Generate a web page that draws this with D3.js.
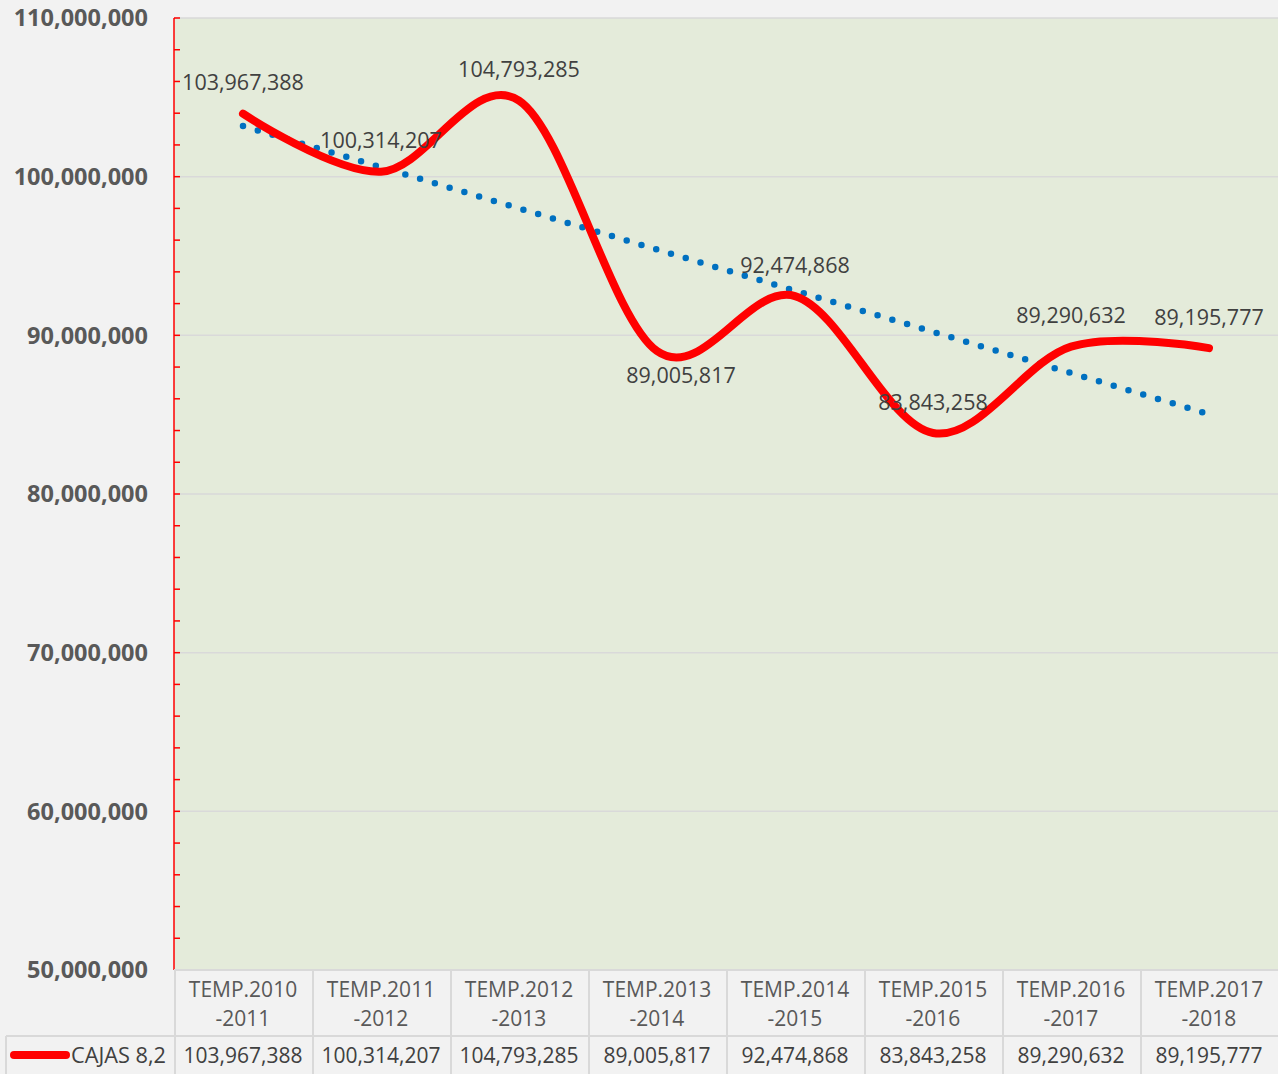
<!DOCTYPE html>
<html>
<head>
<meta charset="utf-8">
<script src="https://cdn.jsdelivr.net/npm/d3@7"></script>
<style>
  html, body { margin: 0; padding: 0; background: #f2f2f2; }
  svg { display: block; }
</style>
</head>
<body>
<svg id="chart" width="1278" height="1074"></svg>
<script>
// chart data
var seasons = ["TEMP.2010-2011", "TEMP.2011-2012", "TEMP.2012-2013", "TEMP.2013-2014",
               "TEMP.2014-2015", "TEMP.2015-2016", "TEMP.2016-2017", "TEMP.2017-2018"];
var cajas = [103967388, 100314207, 104793285, 89005817, 92474868, 83843258, 89290632, 89195777];
var seriesName = "CAJAS 8,2";
var yTicks = [50000000, 60000000, 70000000, 80000000, 90000000, 100000000, 110000000];

// label placement relative to each point (dx, dy)
var labelOffset = [[0, -31], [0, -31], [0, -31], [24, 24], [0, -31], [0, -31], [0, -31], [0, -31]];

(function() {
var W = 1278, H = 1074;
var pLeft = 174, pRight = 1278, pTop = 18, pBottom = 970;
var fmt = d3.format(",");

var svg = d3.select("#chart");

var x = d3.scaleBand().domain(seasons).range([pLeft, pRight]);
var y = d3.scaleLinear().domain([50000000, 110000000]).range([pBottom, pTop]);

// plot area
svg.append("rect")
    .attr("x", pLeft).attr("y", pTop)
    .attr("width", pRight - pLeft).attr("height", pBottom - pTop)
    .attr("fill", "#e4ebda");

// gridlines
svg.append("g").selectAll("line")
    .data(yTicks.slice(1))
    .enter().append("line")
    .attr("x1", pLeft).attr("x2", pRight)
    .attr("y1", function(d) { return y(d); })
    .attr("y2", function(d) { return y(d); })
    .attr("stroke", "#d9d9d9")
    .attr("stroke-width", 1.5);

// y axis labels
svg.append("g").selectAll("text")
    .data(yTicks)
    .enter().append("text")
    .attr("x", 148)
    .attr("y", function(d) { return y(d); })
    .attr("dy", "0.35em")
    .attr("text-anchor", "end")
    .style("font-family", "'Open Sans', sans-serif")
    .style("font-weight", "bold")
    .style("font-size", "23.5px")
    .attr("fill", "#595959")
    .text(function(d) { return fmt(d); });

// minor ticks every 2,000,000
var minor = d3.range(52000000, 110000001, 2000000);
svg.append("g").selectAll("line")
    .data(minor)
    .enter().append("line")
    .attr("x1", pLeft).attr("x2", pLeft + 6)
    .attr("y1", function(d) { return y(d); })
    .attr("y2", function(d) { return y(d); })
    .attr("stroke", "#ff0000")
    .attr("stroke-width", 1.5);

// axis line
svg.append("line")
    .attr("x1", pLeft).attr("x2", pLeft)
    .attr("y1", pTop).attr("y2", pBottom)
    .attr("stroke", "#ff0000")
    .attr("stroke-width", 1.5);

// linear trend (least squares on the series)
var xs = cajas.map(function(d, i) { return i + 1; });
var mx = d3.mean(xs), my = d3.mean(cajas);
var sxy = d3.sum(xs, function(v, i) { return (v - mx) * (cajas[i] - my); });
var sxx = d3.sum(xs, function(v) { return (v - mx) * (v - mx); });
var slope = sxy / sxx, icpt = my - slope * mx;
var cx = function(i) { return x(seasons[i]) + x.bandwidth() / 2; };

svg.append("line")
    .attr("x1", cx(0)).attr("y1", y(icpt + slope * 1))
    .attr("x2", cx(cajas.length - 1)).attr("y2", y(icpt + slope * cajas.length))
    .attr("stroke", "#0070c0")
    .attr("stroke-width", 6.5)
    .attr("stroke-linecap", "round")
    .attr("stroke-dasharray", "0 15.4");

// smoothed series line
var line = d3.line()
    .x(function(d, i) { return cx(i); })
    .y(function(d) { return y(d); })
    .curve(d3.curveCatmullRom.alpha(0));

svg.append("path")
    .datum(cajas)
    .attr("d", line)
    .attr("fill", "none")
    .attr("stroke", "#ff0000")
    .attr("stroke-width", 8)
    .attr("stroke-linecap", "round");

// data labels
svg.append("g").selectAll("text")
    .data(cajas)
    .enter().append("text")
    .attr("x", function(d, i) { return cx(i) + labelOffset[i][0]; })
    .attr("y", function(d, i) { return y(d) + labelOffset[i][1]; })
    .attr("dy", "0.35em")
    .attr("text-anchor", "middle")
    .style("font-family", "'Open Sans', sans-serif")
    .style("font-size", "21.5px")
    .attr("fill", "#404040")
    .text(function(d) { return fmt(d); });

// data table
var rowTop = 970, rowMid = 1036;
var table = svg.append("g");
var gridColor = "#d9d9d9";

table.append("line")
    .attr("x1", pLeft).attr("x2", pRight)
    .attr("y1", rowTop).attr("y2", rowTop)
    .attr("stroke", gridColor).attr("stroke-width", 2);
table.append("line")
    .attr("x1", 6).attr("x2", pRight)
    .attr("y1", rowMid).attr("y2", rowMid)
    .attr("stroke", gridColor).attr("stroke-width", 2);
table.append("line")
    .attr("x1", 6).attr("x2", 6)
    .attr("y1", rowMid).attr("y2", H)
    .attr("stroke", gridColor).attr("stroke-width", 2);

table.selectAll("line.col")
    .data(seasons.concat(["end"]))
    .enter().append("line")
    .attr("class", "col")
    .attr("x1", function(d, i) { return pLeft + i * x.bandwidth() + 1; })
    .attr("x2", function(d, i) { return pLeft + i * x.bandwidth() + 1; })
    .attr("y1", rowTop).attr("y2", H)
    .attr("stroke", gridColor).attr("stroke-width", 2);

var cat = table.selectAll("text.cat")
    .data(seasons)
    .enter().append("text")
    .attr("class", "cat")
    .attr("text-anchor", "middle")
    .style("font-family", "'Open Sans', sans-serif")
    .style("font-size", "21px")
    .attr("fill", "#595959");
cat.append("tspan")
    .attr("x", function(d) { return x(d) + x.bandwidth() / 2; })
    .attr("y", 997)
    .text(function(d) { return d.split("-")[0]; });
cat.append("tspan")
    .attr("x", function(d) { return x(d) + x.bandwidth() / 2; })
    .attr("y", 1026)
    .text(function(d) { return "-" + d.split("-")[1]; });

table.selectAll("text.val")
    .data(cajas)
    .enter().append("text")
    .attr("class", "val")
    .attr("x", function(d, i) { return cx(i); })
    .attr("y", 1063)
    .attr("text-anchor", "middle")
    .style("font-family", "'Open Sans', sans-serif")
    .style("font-size", "21px")
    .attr("fill", "#404040")
    .text(function(d) { return fmt(d); });

// legend key + series name
table.append("line")
    .attr("x1", 14).attr("x2", 66)
    .attr("y1", 1055).attr("y2", 1055)
    .attr("stroke", "#ff0000")
    .attr("stroke-width", 8)
    .attr("stroke-linecap", "round");
table.append("text")
    .attr("x", 71).attr("y", 1063)
    .attr("textLength", 95)
    .attr("lengthAdjust", "spacingAndGlyphs")
    .style("font-family", "'Open Sans', sans-serif")
    .style("font-size", "21px")
    .attr("fill", "#404040")
    .text(seriesName);
})();
</script>
</body>
</html>
